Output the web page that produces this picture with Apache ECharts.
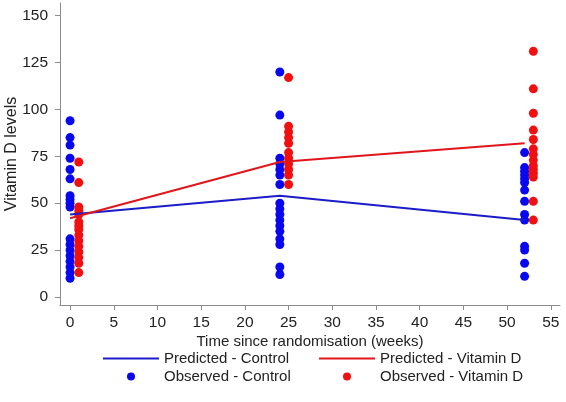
<!DOCTYPE html>
<html><head><meta charset="utf-8">
<script src="https://cdn.jsdelivr.net/npm/echarts@6/dist/echarts.min.js"></script>
<style>html,body{margin:0;padding:0;background:#fff}#c{width:566px;height:402px}</style>
</head><body><div id="c"></div>
<script>
const xTicks = [0,5,10,15,20,25,30,35,40,45,50,55];
const yTicks = [0,25,50,75,100,125,150];
const predWeeks = [0,24,52];
const predControl = [44,54,41];
const predVitD = [42,72,82];
const obsControlWeeks = [0,24,52];
const obsVitDWeeks = [1,25,53];
const obsControl = [
  [94,85,81,74,68,63,54,52,50,48,31,28,25,22,19,16,13,10],
  [120,97,74,71,68,65,60,50,47,44,41,38,35,31,28,16,12],
  [77,69,67,65,63,61,57,51,44,41,27,25,18,11]
];
const obsVitD = [
  [72,61,48,46,44,40,38,36,33,30,27,24,21,18,13],
  [117,91,88,85,82,77,74,71,68,65,60],
  [131,111,98,89,84,79,76,73,70,68,66,64,51,41]
];
const BLUE='#0808f0', RED='#f01010', BLUEL='#1c1cc8', REDL='#e0161c';
function pts(weeks, groups){const o=[];groups.forEach((g,i)=>g.forEach(v=>o.push([weeks[i],v])));return o;}
const chart = echarts.init(document.getElementById('c'));
const font = {fontFamily:'Liberation Sans, Arial, sans-serif'};
const legText = {fontSize:15,color:'#222',...font};
chart.setOption({
  animation:false,
  textStyle:font,
  grid:{left:60,right:6,top:3,bottom:97,containLabel:false,outerBoundsMode:'none'},
  xAxis:{type:'value',min:-1.15,max:56.05,
    name:'Time since randomisation (weeks)',nameLocation:'middle',nameGap:29,nameMoveOverlap:false,
    nameTextStyle:{fontSize:15,color:'#222',...font},
    splitLine:{show:false},
    axisLine:{onZero:false,lineStyle:{color:'#8c8c8c'}},
    axisTick:{customValues:xTicks,length:5,lineStyle:{color:'#8c8c8c'}},
    axisLabel:{customValues:xTicks,fontSize:15.5,color:'#222',margin:10,...font}},
  yAxis:{type:'value',min:-4.3,max:156.8,
    name:'Vitamin D levels',nameLocation:'middle',nameGap:40,nameRotate:90,nameMoveOverlap:false,
    nameTextStyle:{fontSize:16,color:'#222',...font},
    splitLine:{show:false},
    axisLine:{show:true,onZero:false,lineStyle:{color:'#8c8c8c'}},
    axisTick:{show:true,customValues:yTicks,length:5,lineStyle:{color:'#8c8c8c'}},
    axisLabel:{customValues:yTicks,fontSize:15.5,color:'#222',margin:12,...font}},
  legend:[
    {left:97,top:346,orient:'vertical',itemWidth:56,itemHeight:8,itemGap:3,
     textStyle:legText,
     data:[{name:'Predicted - Control',itemStyle:{opacity:0}},{name:'Observed - Control',icon:'circle'}]},
    {left:313,top:346,orient:'vertical',itemWidth:56,itemHeight:8,itemGap:3,
     textStyle:legText,
     data:[{name:'Predicted - Vitamin D',itemStyle:{opacity:0}},{name:'Observed - Vitamin D',icon:'circle'}]}
  ],
  series:[
    {name:'Observed - Control',type:'scatter',symbolSize:9,itemStyle:{color:BLUE,opacity:1},data:pts(obsControlWeeks,obsControl),z:2},
    {name:'Observed - Vitamin D',type:'scatter',symbolSize:9,itemStyle:{color:RED,opacity:1},data:pts(obsVitDWeeks,obsVitD),z:2},
    {name:'Predicted - Control',type:'line',symbol:'none',lineStyle:{color:BLUEL,width:2},itemStyle:{color:BLUEL},data:predWeeks.map((w,i)=>[w,predControl[i]]),z:3},
    {name:'Predicted - Vitamin D',type:'line',symbol:'none',lineStyle:{color:REDL,width:2},itemStyle:{color:REDL},data:predWeeks.map((w,i)=>[w,predVitD[i]]),z:3}
  ]
});
</script></body></html>
